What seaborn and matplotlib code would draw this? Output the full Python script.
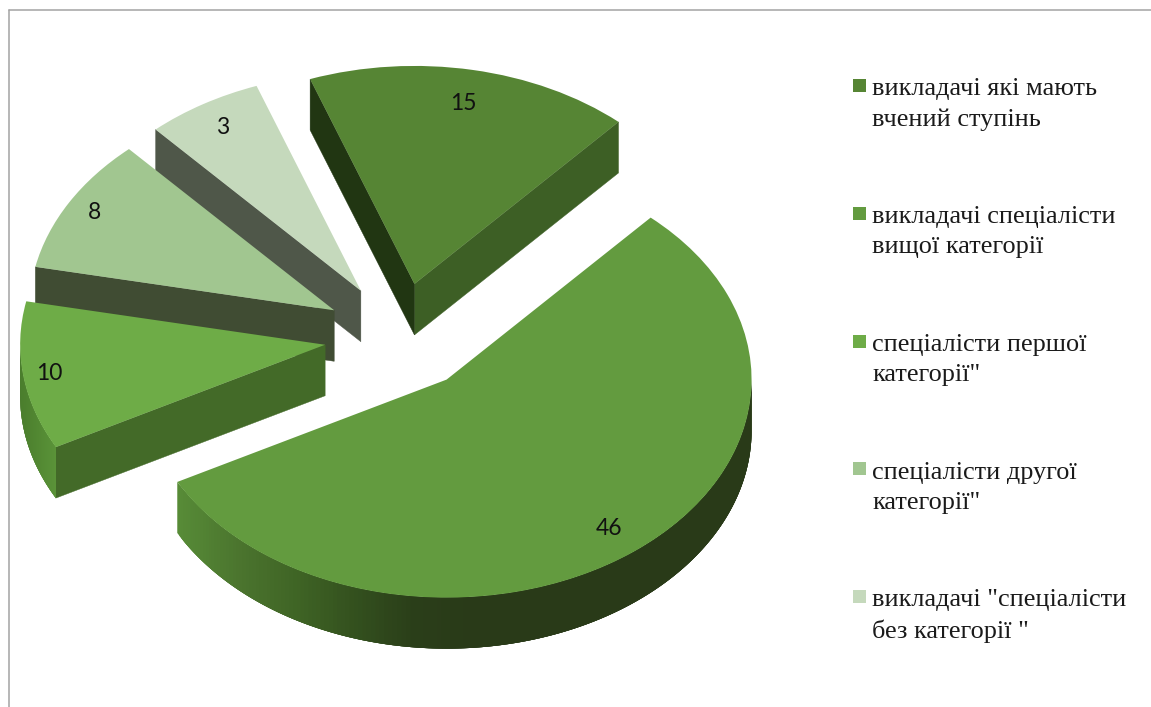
import numpy as np
import matplotlib
matplotlib.use("Agg")
import matplotlib.pyplot as plt
from matplotlib.patches import Patch, Rectangle, Polygon
from matplotlib.collections import PolyCollection
from matplotlib.colors import Normalize
from matplotlib.legend_handler import HandlerPatch
from matplotlib.lines import Line2D
import seaborn as sns

# ---- data ----
categories = ['викладачі які мають\nвчений ступінь',
              'викладачі спеціалісти\nвищої категорії',
              'спеціалісти першої\nкатегорії"',
              'спеціалісти другої\nкатегорії"',
              'викладачі "спеціалісти\nбез категорії "']
values = [15, 46, 10, 8, 3]                 # printed data labels
drawn_shares = [62.0, 200.0, 39.5, 36.2, 22.3]  # slice sizes as they appear in the picture

# ---- styles ----
top_colors = ['#568534', '#639B3F', '#6EAC47', '#A1C690', '#C5D9BC']
face_theta1 = ['#3D5F25', None, None, None, None]
face_theta2 = ['#213612', None, '#436A28', '#404C33', '#4F5749']
side_ramps = [['#3D5F25', '#3D5F25'],
              ['#578b37', '#4b752e', '#3f6425', '#33501e', '#2a3e19', '#293a18'],
              ['#4a7d2c', '#5b9439'],
              ['#404C33', '#404C33'],
              ['#4F5749', '#4F5749']]
side_span = [(-1, 1), (-0.88, 0.08), (-1.0, -0.88), (-1, 1), (-1, 1)]
draw_rank = [1, 4, 3, 2, 0]
label_radius = [0.844, 0.867, 0.915, 0.904, 0.876]

W, H = 1151, 707
CX, CY = 400, 337       # pie centre, px
RX, RY = 305, 218       # ellipse radii, px
DEPTH = 51 / RY
EXPLODE = 0.248
LEG_FS = 18.9

sns.set_theme(style="white")
plt.rcParams['font.family'] = ['Liberation Serif', 'DejaVu Sans']

fig = plt.figure(figsize=(W / 100, H / 100), dpi=100, facecolor='white')
ax = fig.add_axes([0, 0, 1, 1])

wedges, _ = ax.pie(drawn_shares, explode=[EXPLODE] * len(values), colors=top_colors,
                   startangle=110, counterclock=False, normalize=True,
                   wedgeprops={'linewidth': 0})
ax.set_aspect('auto')
ax.set_xlim(-CX / RX, (W - CX) / RX)
ax.set_ylim((CY - H) / RY, CY / RY)
ax.axis('off')

for i, w in enumerate(wedges):
    base = 10 * (draw_rank[i] + 1)
    cx, cy = w.center
    t = np.radians(np.linspace(w.theta1, w.theta2, 240))
    ex, ey = cx + np.cos(t), cy + np.sin(t)

    # two flat cut faces, only where they face the viewer
    for k, col in ((0, face_theta1[i]), (-1, face_theta2[i])):
        if col is not None:
            ax.add_patch(Polygon([(cx, cy), (ex[k], ey[k]), (ex[k], ey[k] - DEPTH), (cx, cy - DEPTH)],
                                 closed=True, facecolor=col, edgecolor=col, linewidth=0.3,
                                 zorder=base + 1))

    # outer rim on the front half, shaded by horizontal position
    cmap = sns.blend_palette(side_ramps[i], n_colors=64, as_cmap=True)
    norm = Normalize(*side_span[i], clip=True)
    front = np.where(np.sin(t) < 0.0)[0]
    if len(front) > 1:
        idx = front[:-1]
        quads = []
        for k in idx:
            j = min(k + 4, front[-1])
            arc_top = list(zip(ex[k:j + 1], ey[k:j + 1]))
            arc_bot = list(zip(ex[k:j + 1], ey[k:j + 1] - DEPTH))[::-1]
            quads.append(arc_top + arc_bot)
        cols = cmap(norm(np.cos(t[idx])))
        ax.add_collection(PolyCollection(quads, facecolors=cols, edgecolors='none',
                                         linewidths=0, zorder=base + 2))
    w.set_zorder(base + 3)

    # data label
    mid = np.radians((w.theta1 + w.theta2) / 2)
    ax.text(cx + label_radius[i] * np.cos(mid), cy + label_radius[i] * np.sin(mid),
            str(values[i]), ha='center', va='center', family='Lato',
            fontsize=16.5, color='#111111', zorder=100)

# legend
SQ = 9.4


def square(legend, orig_handle, xdescent, ydescent, width, height, fontsize):
    return Rectangle((-xdescent, 2.5), SQ, SQ)


leg = ax.legend([Patch(facecolor=c, linewidth=0) for c in top_colors], categories,
                loc='upper left', bbox_to_anchor=(853 / W, 1 - 78 / H),
                bbox_transform=fig.transFigure, frameon=False, fontsize=LEG_FS,
                borderpad=0, borderaxespad=0, handlelength=SQ / LEG_FS, handleheight=0.55,
                handletextpad=0.23, labelspacing=2.89,
                handler_map={Patch: HandlerPatch(patch_func=square)},
                labelcolor='#1a1a1a')
for txt in leg.get_texts():
    txt.set_linespacing(1.46)
for row in leg._legend_handle_box.get_children()[0].get_children():
    row.align = 'top'

# chart frame, left and top only
for xs, ys in (([9 / W, 9 / W], [0, 1 - 10 / H]), ([9 / W, 1], [1 - 10 / H, 1 - 10 / H])):
    fig.add_artist(Line2D(xs, ys, transform=fig.transFigure, color='#a3a3a3', linewidth=1.1))

fig.savefig('out.png', dpi=100, facecolor='white')
